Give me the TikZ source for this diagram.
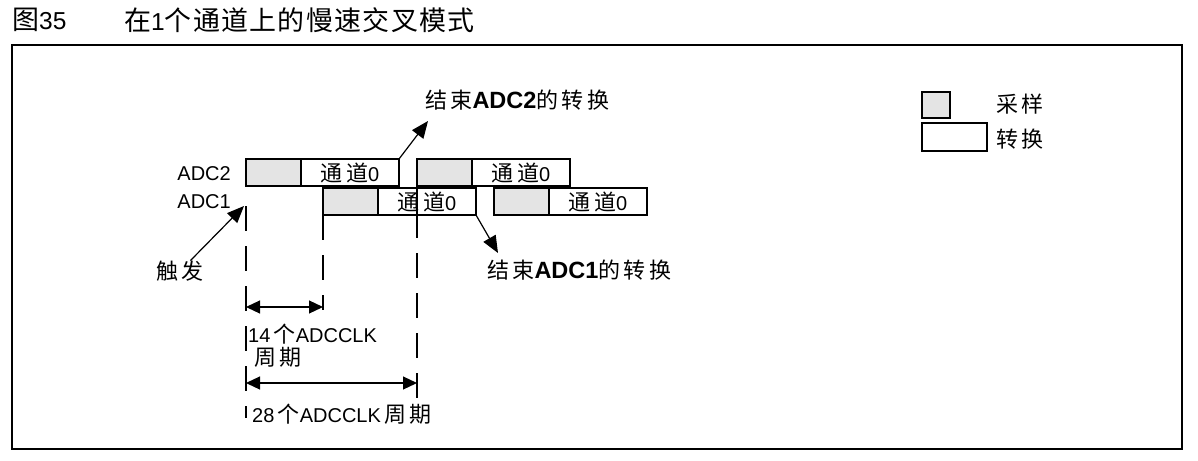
\documentclass[tikz,border=0pt]{standalone}
\usepackage{fontspec}
\setmainfont{Liberation Sans}
\newfontfamily\cjkfont[Scale=1.1,LetterSpace=15]{Noto Sans CJK SC}
\newfontfamily\cjktitle[Scale=1.1,LetterSpace=5]{Noto Sans CJK SC}
\newcommand{\zh}[1]{{\cjkfont #1}}
\usetikzlibrary{arrows.meta}
\definecolor{sampgray}{RGB}{228,228,228}
\tikzset{
  slot/.style={draw, line width=1.4pt, minimum height=27pt, inner sep=0pt,
    outer sep=0pt, anchor=north west, font=\fontsize{20}{24}\selectfont},
  samp/.style={slot, fill=sampgray, minimum width=55pt},
  conv/.style={slot, fill=white, minimum width=98pt},
  guide/.style={line width=1.3pt, dash pattern=on 25pt off 15pt},
  arr/.style={line width=1.2pt, -{Triangle[length=17pt,width=14pt]}},
  dim/.style={line width=1.2pt,
    {Triangle[length=14pt,width=13pt]}-{Triangle[length=14pt,width=13pt]}},
  lbl/.style={inner sep=0pt, font=\fontsize{20}{24}\selectfont},
  ttl/.style={inner sep=0pt, font=\fontsize{24.5}{28}\selectfont},
}
\begin{document}
\begin{tikzpicture}[x=1pt, y=-1pt]
  \useasboundingbox (0,0) rectangle (1198,460);
  % Title and frame
  \node[ttl, anchor=west] (fig) at (12,20) {{\cjktitle 图}35};
  \node[ttl, anchor=west] (cap) at (124,20)
    {{\cjktitle 在}1{\cjktitle 个通道上的慢速交叉模式}};
  \draw[line width=1.8pt] (12,45) rectangle (1182,449);

  % ADC2 conversions
  \node[lbl, anchor=east] (adc2) at (231,174) {ADC2};
  \node[samp] (s2a) at (246,159) {};
  \node[conv] (c2a) at (s2a.north east) {\zh{通道}0};
  \node[samp] (s2b) at (417,159) {};
  \node[conv] (c2b) at (s2b.north east) {\zh{通道}0};
  % ADC1 conversions
  \node[lbl, anchor=east] (adc1) at (231,202) {ADC1};
  \node[samp] (s1a) at (323,188) {};
  \node[conv] (c1a) at (s1a.north east) {\zh{通道}0};
  \node[samp] (s1b) at (494,188) {};
  \node[conv] (c1b) at (s1b.north east) {\zh{通道}0};

  % Dashed time marks
  \coordinate (g0) at (246,206);
  \coordinate (g0end) at (246,418);
  \draw[guide] (g0) -- (g0end);
  \coordinate (g1end) at (323,310);
  \draw[guide] (s1a.south west) -- (g1end);
  \coordinate (g2) at (417,238);
  \coordinate (g2b) at (417,253);
  \coordinate (g2end) at (417,400);
  \draw[line width=1.3pt] (s2b.south west) -- (g2);
  \draw[guide] (g2b) -- (g2end);

  % Cycle counts
  \coordinate (d14l) at (246,307);
  \coordinate (d14r) at (323,307);
  \draw[dim] (d14l) -- (d14r);
  \coordinate (d28l) at (246,383);
  \coordinate (d28r) at (417,383);
  \draw[dim] (d28l) -- (d28r);
  \node[lbl, anchor=west] (n14) at (248,334) {14\,\zh{个}ADCCLK};
  \node[lbl, anchor=west] (p14) at (254,357) {\zh{周期}};
  \node[lbl, anchor=west] (n28) at (252,414) {28\,\zh{个}ADCCLK\,\zh{周期}};

  % Trigger
  \node[lbl] (trig) at (180,271) {\zh{触发}};
  \coordinate (trigtip) at (244,206);
  \draw[arr] (trig.45) -- (trigtip);

  % End of conversion
  \node[lbl, anchor=west] (end2) at (425,100)
    {\zh{结束}{\fontsize{23.5}{28}\selectfont\bfseries ADC2}\zh{的转换}};
  \coordinate (end2tip) at (428,121);
  \draw[arr] (c2a.north east) -- (end2tip);
  \node[lbl, anchor=west] (end1) at (487,270)
    {\zh{结束}{\fontsize{23.5}{28}\selectfont\bfseries ADC1}\zh{的转换}};
  \coordinate (end1tip) at (498,253);
  \draw[arr] (c1a.south east) -- (end1tip);

  % Legend
  \node[samp, minimum width=28pt, minimum height=26pt] (lgs) at (922,92) {};
  \node[conv, minimum width=65pt, minimum height=28pt] (lgc) at (922,123) {};
  \node[lbl, anchor=west] (lgst) at (996,104) {\zh{采样}};
  \node[lbl, anchor=west] (lgct) at (996,139) {\zh{转换}};
\end{tikzpicture}
\end{document}
